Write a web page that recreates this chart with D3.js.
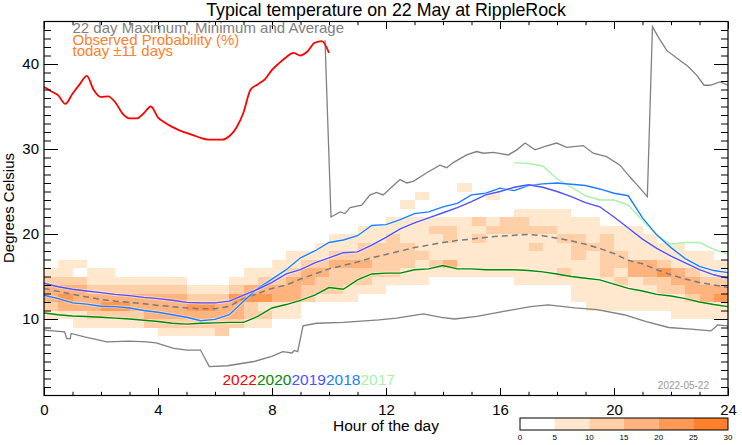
<!DOCTYPE html>
<html>
<head>
<meta charset="utf-8">
<script src="https://cdn.jsdelivr.net/npm/d3@7"></script>
<style>
  body { margin: 0; background: #fff; }
  svg { display: block; font-family: "Liberation Sans", Arial, Helvetica, sans-serif; }
</style>
</head>
<body>
<svg id="chart" width="742" height="445"></svg>
<script>
// ---- data ----
var halfHours = d3.range(0, 24.01, 0.5);
var quarterHours = d3.range(0, 10.01, 0.25);

// 22 day average (dashed)
var avgTemps = [13.6, 13.25, 12.9, 12.6, 12.3, 12.1, 11.95, 11.8, 11.6, 11.45, 11.3, 11.2, 11.2, 11.5, 12.4, 13.0,
  13.6, 14.0, 14.7, 15.3, 15.9, 16.3, 16.7, 17.2, 17.6, 18.0, 18.4, 18.7, 19.0, 19.25, 19.4, 19.6, 19.75, 19.85,
  19.95, 19.8, 19.5, 19.2, 18.8, 18.3, 17.7, 16.9, 16.5, 15.8, 15.2, 14.7, 14.3, 14.0, 13.7];

// 22 day max (only the part not hidden under 2022) and min
var maxHours = [9.86, 10.07, 10.39, 10.56, 10.74, 11.15, 11.44, 11.67, 11.9, 12.49, 12.73, 12.96, 13.43, 13.89, 14.13,
  14.36, 14.83, 15.18, 15.42, 15.77, 16.29, 16.59, 16.88, 17.23, 17.58, 17.99, 18.34, 18.92, 19.27, 19.74, 20.21,
  20.56, 20.91, 21.17, 21.35, 21.55, 21.85, 22.2, 22.6, 22.9, 23.16, 23.37, 23.72, 24];
var maxTemps = [42.8, 22.0, 22.6, 22.4, 23.1, 23.4, 24.6, 24.9, 24.6, 26.4, 26.0, 26.2, 27.2, 28.1, 27.8, 28.4, 29.3,
  29.7, 29.5, 29.6, 29.3, 29.9, 30.7, 29.9, 30.3, 30.7, 30.2, 30.4, 29.5, 29.1, 28.1, 26.7, 25.4, 24.4, 44.4, 43.2,
  41.6, 40.7, 39.7, 38.7, 37.5, 37.5, 37.9, 37.5];
var minHours = [0, 0.72, 0.8, 0.92, 0.95, 1.42, 2.21, 2.99, 3.61, 3.93, 4.55, 5.02, 5.49, 5.8, 6.43, 7.37, 7.99, 8.38,
  8.7, 8.78, 8.9, 9.09, 9.56, 10.5, 11.75, 12.37, 13.31, 13.94, 14.41, 15.19, 16.13, 17.07, 17.69, 18.63, 19.41,
  20.35, 21.13, 21.92, 22.7, 23.4, 23.64, 24];
var minTemps = [8.7, 8.5, 7.7, 7.7, 8.3, 7.9, 7.3, 7.4, 7.3, 7.2, 6.55, 6.35, 6.35, 4.4, 4.5, 5.0, 5.6, 6.15, 6.0, 6.3,
  6.15, 9.2, 9.5, 9.6, 9.9, 10.1, 10.6, 10.2, 10.0, 10.3, 10.9, 11.45, 11.65, 11.3, 11.1, 10.5, 9.7, 9.0, 8.8, 8.6,
  9.3, 9.2];

// years
var temps2022 = [37.3, 36.8, 36.3, 35.3, 36.5, 37.6, 38.6, 36.9, 36.1, 36.2, 35.5, 34.2, 33.6, 33.6, 34.2, 35.0, 33.7,
  33.1, 32.6, 32.2, 31.9, 31.6, 31.3, 31.1, 31.1, 31.1, 31.5, 32.5, 34.3, 37.0, 37.6, 38.2, 39.3, 40.1, 40.8, 41.3,
  41.0, 41.5, 42.5, 42.7, 41.3];
var temps2020 = [10.7, 10.5, 10.35, 10.3, 10.2, 10.1, 10.0, 9.85, 9.7, 9.5, 9.4, 9.5, 9.55, 9.6, 9.6, 10.3, 11.3, 11.7,
  12.2, 12.8, 13.7, 13.5, 14.6, 15.3, 15.4, 15.4, 15.8, 15.9, 16.3, 15.9, 15.9, 15.8, 15.8, 15.8, 15.7, 15.55, 15.3,
  15.0, 14.8, 14.6, 14.1, 13.6, 13.3, 12.9, 12.7, 12.4, 12.0, 11.7, 11.45];
var temps2019 = [14.2, 13.8, 13.5, 13.3, 13.1, 12.9, 12.75, 12.55, 12.4, 12.2, 11.95, 11.9, 11.9, 12.1, 12.8, 13.5,
  14.3, 15.3, 15.8, 16.6, 17.2, 17.8, 17.9, 18.7, 19.6, 20.6, 21.3, 21.9, 22.5, 23.1, 23.8, 24.6, 25.0, 25.5, 25.8,
  25.5, 25.0, 24.4, 23.7, 23.2, 22.0, 20.7, 19.4, 18.3, 17.4, 16.6, 15.8, 15.2, 14.8];
var temps2018 = [12.8, 12.4, 11.9, 11.75, 11.5, 11.45, 11.3, 11.0, 10.8, 10.5, 10.2, 9.8, 9.95, 10.5, 12.1, 13.6, 14.7,
  15.8, 17.2, 18.0, 19.0, 19.3, 19.8, 21.0, 21.1, 21.7, 22.4, 22.6, 23.2, 23.6, 24.6, 24.8, 25.4, 25.1, 25.7, 25.9,
  26.0, 25.85, 25.7, 25.3, 24.8, 24.5, 21.9, 19.9, 18.4, 17.1, 16.2, 15.7, 15.45];
var temps2017 = [null, null, null, null, null, null, null, null, null, null, null, null, null, null, null, null, null,
  null, null, null, null, null, null, null, null, null, null, null, null, null, null, null, null, 28.4, 28.3, 28.0,
  26.5, 25.5, 24.5, 24.0, 24.0, 23.4, 21.6, 19.8, 18.8, 19.0, 19.0, 18.2, 17.65];

var years = ['2022', '2020', '2019', '2018', '2017'];
var yearColors = ['#ff0000', '#008a00', '#5050ff', '#1a7fff', '#a8f2a8'];

// observed probability, one string per 1 degree bin (bin bottom in probBins),
// one digit per half hour: 0 = 0-5 %, 1 = 5-10 %, ... 5 = 25-30 %
var probBins = [25, 24, 23, 22, 21, 20, 19, 18, 17, 16, 15, 14, 13, 12, 11, 10, 9, 8];
var probRows = [
  '000000000000000000000000000001000000000000000000',
  '000000000000000000000000001000010000000000000000',
  '000000000000000000000000010000000000000000000000',
  '000000000000000000000000000000000111100000000000',
  '000000000000000000000000111111212211111000000000',
  '000000000000000000000011111221122222111111000000',
  '000000000000000000001111211121211111221211100000',
  '000000000000000000011122221111111121122211111000',
  '000000000000000001112222222111111111121221111110',
  '011000000000000011223332221231111111111223321111',
  '110110000000001112332222211111111111211213343211',
  '222111111100011223322221111000000111111121223322',
  '333222222211123333222111000000000000011111122333',
  '343333333322244433211100000000000000011111111234',
  '233344333344332111000000000000000000001111111111',
  '111222233333332211000000000000000000000000001111',
  '001111122222221100000000000000000000000000000000',
  '000000001111200000000000000000000000000000000000'
];
var probTicks = [0, 5, 10, 15, 20, 25, 30];
var probColors = ['#ffffff', '#ffe8cd', '#ffcfa8', '#ffb37f', '#ff9a56', '#ff7f2b'];

// ---- chart ----
var svg = d3.select('#chart');
var x = d3.scaleLinear().domain([0, 24]).range([44, 728]);
var y = d3.scaleLinear().domain([1, 45]).range([395.5, 21.5]);
var probColor = d3.scaleThreshold().domain(probTicks.slice(1, -1)).range(probColors);

svg.append('clipPath').attr('id', 'plotclip')
  .append('rect').attr('x', x(0)).attr('y', y(45)).attr('width', x(24) - x(0)).attr('height', y(1) - y(45));

var plot = svg.append('g').attr('clip-path', 'url(#plotclip)');

// heat map cells
var cells = [];
probRows.forEach(function(row, r) {
  row.split('').forEach(function(c, i) {
    var level = +c;
    if (level > 0) cells.push({ h: halfHours[i], t: probBins[r], p: level * 5 + 2.5 });
  });
});
plot.append('g').selectAll('rect').data(cells).enter().append('rect')
  .attr('x', function(d) { return x(d.h); })
  .attr('y', function(d) { return y(d.t + 1); })
  .attr('width', function(d) { return x(d.h + 0.5) - x(d.h); })
  .attr('height', function(d) { return y(d.t) - y(d.t + 1); })
  .attr('fill', function(d) { return probColor(d.p); })
  .attr('shape-rendering', 'crispEdges');

function pairs(hs, ts) {
  return hs.map(function(h, i) { return [h, ts[i]]; });
}
var line = d3.line()
  .defined(function(d) { return d[1] != null; })
  .x(function(d) { return x(d[0]); })
  .y(function(d) { return y(d[1]); });

plot.append('path').datum(pairs(maxHours, maxTemps))
  .attr('d', line).attr('fill', 'none').attr('stroke', '#808080').attr('stroke-width', 1.3);
plot.append('path').datum(pairs(minHours, minTemps))
  .attr('d', line).attr('fill', 'none').attr('stroke', '#808080').attr('stroke-width', 1.3);
plot.append('path').datum(pairs(halfHours, avgTemps))
  .attr('d', line).attr('fill', 'none').attr('stroke', '#7a7a7a').attr('stroke-width', 1.5)
  .attr('stroke-dasharray', '6,4');

var yearSeries = [
  { data: pairs(halfHours, temps2017), color: yearColors[4] },
  { data: pairs(halfHours, temps2018), color: yearColors[3] },
  { data: pairs(halfHours, temps2019), color: yearColors[2] },
  { data: pairs(halfHours, temps2020), color: yearColors[1] }
];
yearSeries.forEach(function(s) {
  plot.append('path').datum(s.data)
    .attr('d', line).attr('fill', 'none').attr('stroke', '#fff').attr('stroke-opacity', 0.45)
    .attr('stroke-width', 3.2);
  plot.append('path').datum(s.data)
    .attr('d', line).attr('fill', 'none').attr('stroke', s.color).attr('stroke-width', 1.4);
});
var smooth = d3.line().curve(d3.curveMonotoneX)
  .x(function(d) { return x(d[0]); })
  .y(function(d) { return y(d[1]); });
plot.append('path').datum(pairs(quarterHours, temps2022))
  .attr('d', smooth).attr('fill', 'none').attr('stroke', yearColors[0]).attr('stroke-width', 1.8);

// axes
function styleAxis(g) {
  g.select('.domain').remove();
  g.selectAll('text').attr('font-family', null).attr('font-size', 15).attr('fill', '#000');
  g.attr('font-family', null).attr('font-size', null);
}
var axes = svg.append('g');
axes.append('g').attr('transform', 'translate(0,' + y(1) + ')')
  .call(d3.axisBottom(x).tickValues(d3.range(0, 25, 4)).tickSize(-7.5).tickPadding(9).tickFormat(d3.format('d')))
  .call(styleAxis);
axes.append('g').attr('transform', 'translate(0,' + y(1) + ')')
  .call(d3.axisBottom(x).tickValues(d3.range(1, 24)).tickSize(-3.7).tickFormat(''))
  .call(styleAxis);
axes.append('g').attr('transform', 'translate(0,' + y(45) + ')')
  .call(d3.axisTop(x).tickValues(d3.range(0, 25, 4)).tickSize(-7.5).tickFormat(''))
  .call(styleAxis);
axes.append('g').attr('transform', 'translate(0,' + y(45) + ')')
  .call(d3.axisTop(x).tickValues(d3.range(1, 24)).tickSize(-3.7).tickFormat(''))
  .call(styleAxis);
axes.append('g').attr('transform', 'translate(' + x(0) + ',0)')
  .call(d3.axisLeft(y).tickValues([10, 20, 30, 40]).tickSize(-14).tickPadding(5).tickFormat(d3.format('d')))
  .call(styleAxis);
axes.append('g').attr('transform', 'translate(' + x(0) + ',0)')
  .call(d3.axisLeft(y).tickValues(d3.range(2, 45)).tickSize(-7).tickFormat(''))
  .call(styleAxis);
axes.append('g').attr('transform', 'translate(' + x(24) + ',0)')
  .call(d3.axisRight(y).tickValues([10, 20, 30, 40]).tickSize(-14).tickFormat(''))
  .call(styleAxis);
axes.append('g').attr('transform', 'translate(' + x(24) + ',0)')
  .call(d3.axisRight(y).tickValues(d3.range(2, 45)).tickSize(-7).tickFormat(''))
  .call(styleAxis);
axes.append('rect')
  .attr('x', x(0)).attr('y', y(45)).attr('width', x(24) - x(0)).attr('height', y(1) - y(45))
  .attr('fill', 'none').attr('stroke', '#000').attr('stroke-width', 1.2);

// titles
svg.append('text').attr('x', 386).attr('y', 16.2).attr('text-anchor', 'middle')
  .attr('font-size', 17.8).text('Typical temperature on 22 May at RippleRock');
svg.append('text').attr('x', 386).attr('y', 431).attr('text-anchor', 'middle')
  .attr('font-size', 15.5).text('Hour of the day');
svg.append('text').attr('transform', 'translate(14,208) rotate(-90)').attr('text-anchor', 'middle')
  .attr('font-size', 15).text('Degrees Celsius');

// top left legend (lines sit close together, as in the original)
svg.append('text').attr('x', 72.5).attr('y', 32.5).attr('font-size', 15).attr('fill', '#808080')
  .text('22 day Maximum, Minimum and Average');
svg.append('text').attr('x', 72.5).attr('y', 44.5).attr('font-size', 15).attr('fill', '#ff7f2a')
  .text('Observed Probability (%)');
svg.append('text').attr('x', 72.5).attr('y', 56).attr('font-size', 15).attr('fill', '#ff7f2a')
  .text('today \u00b111 days');

// year legend
var yl = svg.append('text').attr('x', 222.5).attr('y', 385).attr('font-size', 15.5);
years.forEach(function(yr, i) {
  yl.append('tspan').attr('fill', yearColors[i]).text(yr);
});

svg.append('text').attr('x', 709).attr('y', 389).attr('text-anchor', 'end')
  .attr('font-size', 10).attr('fill', '#999').text('2022-05-22');

// colour bar
var cb = d3.scaleLinear().domain([0, 30]).range([520, 728]);
var cbar = svg.append('g');
cbar.selectAll('rect').data(probColors).enter().append('rect')
  .attr('x', function(d, i) { return cb(probTicks[i]); })
  .attr('y', 418)
  .attr('width', function(d, i) { return cb(probTicks[i + 1]) - cb(probTicks[i]); })
  .attr('height', 12)
  .attr('fill', function(d) { return d; });
cbar.append('rect').attr('x', cb(0)).attr('y', 418).attr('width', cb(30) - cb(0)).attr('height', 12)
  .attr('fill', 'none').attr('stroke', '#000').attr('stroke-width', 1);
cbar.selectAll('text').data(probTicks).enter().append('text')
  .attr('x', function(d) { return cb(d); })
  .attr('y', 440)
  .attr('text-anchor', 'middle')
  .attr('font-size', 8)
  .text(function(d) { return d; });
</script>
</body>
</html>
